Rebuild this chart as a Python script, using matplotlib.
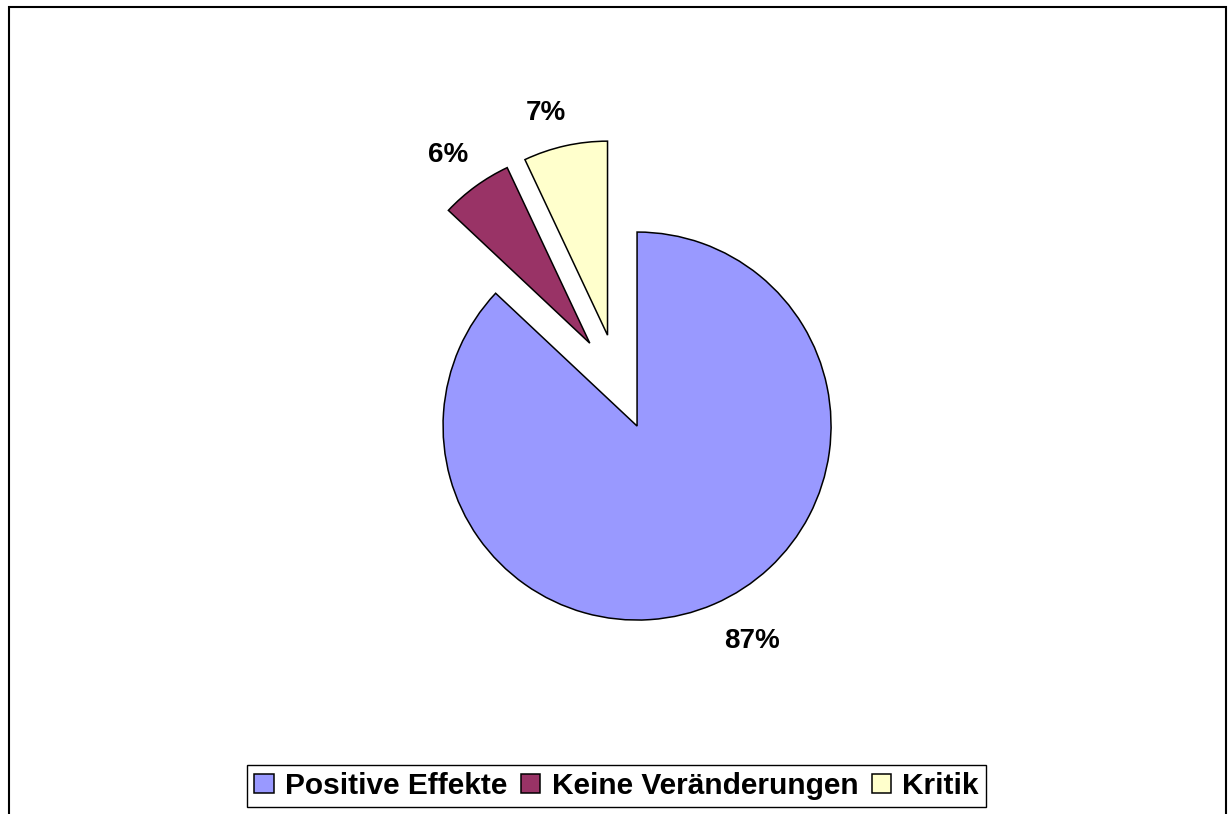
import matplotlib
matplotlib.use('Agg')
import matplotlib.pyplot as plt
from matplotlib.patches import Rectangle

plt.rcParams['font.family'] = ['Liberation Sans', 'DejaVu Sans']

categories = ['Positive Effekte', 'Keine Veränderungen', 'Kritik']
values = [87, 6, 7]
colors = ['#9999FF', '#993366', '#FFFFCC']

W, H = 1228, 814
fig = plt.figure(figsize=(W / 100, H / 100), dpi=100)
ax = fig.add_axes([0, 0, 1, 1])

wedges, texts, autotexts = ax.pie(
    values, colors=colors, startangle=90, counterclock=False,
    center=(618, 432), radius=194, explode=[48, 48, 48],
    autopct=lambda p: f'{p:.0f}%', pctdistance=1.22,
    wedgeprops=dict(edgecolor='black', linewidth=1.1),
    textprops=dict(fontsize=20, fontweight='bold', color='black'),
    frame=True)
ax.set_xlim(0, W)
ax.set_ylim(0, H)
ax.set_aspect('equal')
ax.axis('off')

# nudge the percentage labels to where Excel put them
label_shift = [(21, 2), (-3, -3), (-10, -9)]
for t, (dx, dy) in zip(autotexts, label_shift):
    x, y = t.get_position()
    t.set_position((x + dx, y + dy))

leg = fig.legend(wedges, categories, loc='center', bbox_to_anchor=(616.5 / W, 1 - 786 / H),
                 ncol=3, frameon=True, fancybox=False, framealpha=1,
                 edgecolor='black', prop=dict(size=21.5, weight='bold'),
                 handlelength=0.65, handleheight=0.65, handletextpad=0.38,
                 columnspacing=0.45, borderpad=0.25, borderaxespad=0)
leg.get_frame().set_linewidth(1.0)

# outer chart-area border (bottom edge runs off the image)
fig.patches.append(Rectangle((9 / W, -0.05), (1226 - 9) / W, 1.05 - 7 / H,
                             transform=fig.transFigure, fill=False,
                             edgecolor='black', linewidth=1.5, clip_on=False))

fig.savefig('out.png', dpi=100)
